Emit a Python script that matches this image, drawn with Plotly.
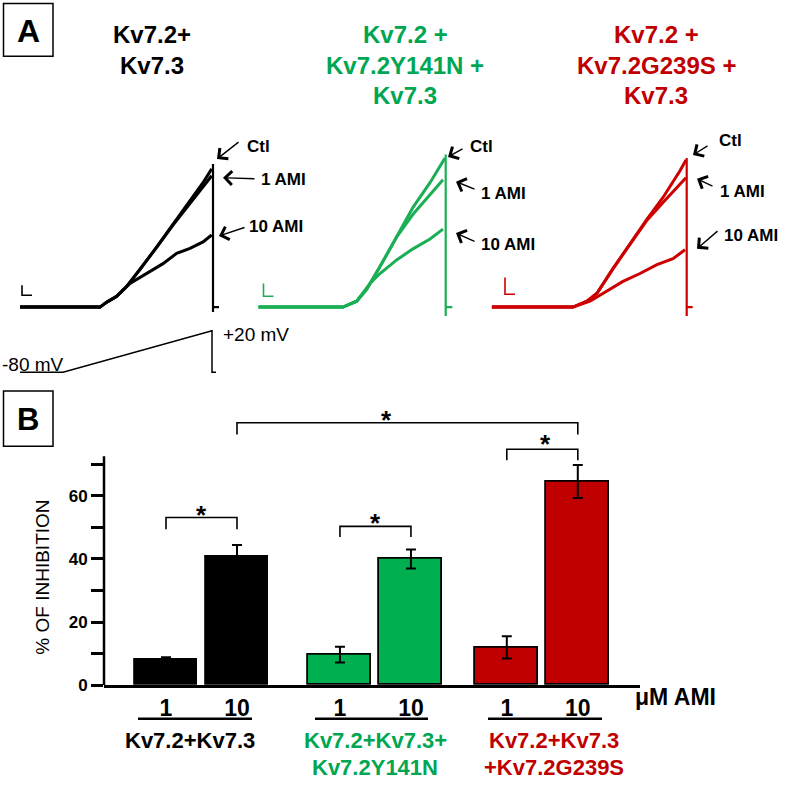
import plotly.graph_objects as go

W, H = 787, 797


def PX(x):
    return x / W


def PY(y):
    return 1 - y / H


FONT = "Liberation Sans, Arial, sans-serif"
BLACK = "#000000"
GREEN_TRACE = "#1aaf54"
GREEN = "#00a651"
GREEN_BAR = "#00b050"
RED_TRACE = "#cc0000"
RED = "#c00000"

# ---------------- Panel A data (time in ms, current in nA) ----
black_t_ctl = [0, 800, 867, 967, 1067, 1200, 1367, 1530, 1700, 1830, 1917]
black_i_ctl = [0, 0, 0.10, 0.22, 0.42, 0.76, 1.22, 1.68, 2.16, 2.52, 2.80]
black_t_1 = [0, 800, 867, 967, 1067, 1200, 1367, 1530, 1700, 1830, 1917]
black_i_1 = [0, 0, 0.10, 0.22, 0.42, 0.76, 1.21, 1.66, 2.11, 2.44, 2.66]
black_t_10 = [0, 800, 867, 967, 1100, 1267, 1430, 1567, 1700, 1830, 1917]
black_i_10 = [0, 0, 0.10, 0.22, 0.48, 0.69, 0.88, 1.09, 1.19, 1.32, 1.46]
black_t_art = [1930, 1930, 1930, 1990]
black_i_art = [2.90, -0.10, 0.0, 0.0]

green_t_ctl = [0, 847, 984, 1084, 1217, 1384, 1547, 1717, 1867]
green_i_ctl = [0, 0, 0.12, 0.36, 0.82, 1.42, 2.02, 2.52, 3.02]
green_t_1 = [0, 847, 984, 1084, 1217, 1384, 1547, 1717, 1847]
green_i_1 = [0, 0, 0.12, 0.36, 0.82, 1.42, 1.88, 2.28, 2.58]
green_t_10 = [0, 847, 984, 1117, 1217, 1387, 1547, 1717, 1847]
green_i_10 = [0, 0, 0.12, 0.48, 0.68, 0.96, 1.18, 1.38, 1.58]
green_t_art = [1874, 1874, 1874, 1940]
green_i_art = [3.09, -0.18, 0.0, 0.0]

red_t_ctl = [0, 813, 953, 1053, 1213, 1383, 1553, 1713, 1883, 1943]
red_i_ctl = [0, 0, 0.12, 0.28, 0.78, 1.28, 1.78, 2.22, 2.76, 2.98]
red_t_1 = [0, 813, 953, 1053, 1213, 1383, 1553, 1713, 1883, 1943]
red_i_1 = [0, 0, 0.12, 0.28, 0.78, 1.28, 1.76, 2.12, 2.48, 2.62]
red_t_10 = [0, 813, 983, 1153, 1313, 1483, 1653, 1813, 1933]
red_i_10 = [0, 0, 0.12, 0.32, 0.52, 0.68, 0.86, 0.98, 1.16]
red_t_art = [1950, 1950, 1950, 2010]
red_i_art = [3.02, -0.18, 0.0, 0.0]

# voltage protocol
volt_t = [0, 430, 1920, 1920, 1960]
volt_mv = [-80, -80, 20, -80, -80]

trace_labels = ["Ctl", "1 AMI", "10 AMI"]

# ---------------- Panel B data ----------------
group_names = ["Kv7.2+Kv7.3", "Kv7.2+Kv7.3+|Kv7.2Y141N", "Kv7.2+Kv7.3|+Kv7.2G239S"]
concentrations = ["1", "10"]
mean_inhibition = [[8.1, 40.6], [9.7, 40.0], [12.0, 64.5]]
sem_inhibition = [[0.8, 3.8], [2.5, 3.0], [3.5, 5.2]]
ytick_vals = [0, 10, 20, 30, 40, 50, 60, 70]
ytick_text = ["0", "", "20", "", "40", "", "60", ""]

fig = go.Figure()

# ---------- Panel A traces ----------
panels = [
    ("x", "y", BLACK, [(black_t_ctl, black_i_ctl), (black_t_1, black_i_1), (black_t_10, black_i_10), (black_t_art, black_i_art)]),
    ("x2", "y2", GREEN_TRACE, [(green_t_ctl, green_i_ctl), (green_t_1, green_i_1), (green_t_10, green_i_10), (green_t_art, green_i_art)]),
    ("x3", "y3", RED_TRACE, [(red_t_ctl, red_i_ctl), (red_t_1, red_i_1), (red_t_10, red_i_10), (red_t_art, red_i_art)]),
]
for xa, ya, col, series in panels:
    for k, (t, i) in enumerate(series):
        fig.add_trace(go.Scatter(x=t, y=i, xaxis=xa, yaxis=ya, mode="lines",
                                 line=dict(color=col, width=3.0 if k < 3 else 2.2),
                                 showlegend=False, hoverinfo="skip"))

fig.add_trace(go.Scatter(x=volt_t, y=volt_mv, xaxis="x4", yaxis="y4", mode="lines",
                         line=dict(color=BLACK, width=1.5), showlegend=False, hoverinfo="skip"))

# ---------- Panel B bars ----------
group_offsets = [0.0, 2.45, 4.8]
bar_colors = [BLACK, GREEN_BAR, RED]
bar_pos = []
for g in range(3):
    xs = [group_offsets[g], group_offsets[g] + 1.0]
    bar_pos.append(xs)
    fig.add_trace(go.Bar(x=xs, y=mean_inhibition[g], xaxis="x5", yaxis="y5", width=0.887,
                         marker=dict(color=bar_colors[g], line=dict(color=BLACK, width=1.8)),
                         error_y=dict(type="data", array=sem_inhibition[g], visible=True,
                                      color=BLACK, thickness=2, width=5),
                         showlegend=False, hoverinfo="skip"))

# significance brackets (x-index pairs, top level, drop)
brackets = [((0, 0), (0, 1), 53.1, 3.7), ((1, 0), (1, 1), 50.3, 3.4),
            ((2, 0), (2, 1), 74.7, 3.5), ((0, 1), (2, 1), 83.1, 3.7)]
star_px = [(201, 522), (375, 530), (545, 450), (386, 425)]
for (a, b, top, drop) in brackets:
    xa = bar_pos[a[0]][a[1]]
    xb = bar_pos[b[0]][b[1]]
    fig.add_trace(go.Scatter(x=[xa, xa, xb, xb], y=[top - drop, top, top, top - drop],
                             xaxis="x5", yaxis="y5", mode="lines",
                             line=dict(color=BLACK, width=1.6), showlegend=False, hoverinfo="skip"))

all_pos = [p for pair in bar_pos for p in pair]
all_lab = [c for _ in range(3) for c in concentrations]

hidden = dict(visible=False)
fig.update_layout(
    width=W, height=H, margin=dict(l=0, r=0, t=0, b=0),
    paper_bgcolor="white", plot_bgcolor="rgba(0,0,0,0)",
    font=dict(family=FONT, color=BLACK),
    xaxis=dict(domain=[PX(20), PX(240)], range=[0, 2200], anchor="y", **hidden),
    yaxis=dict(domain=[PY(325), PY(150)], range=[-0.28, 3.22], anchor="x", **hidden),
    xaxis2=dict(domain=[PX(258.3), PX(478.3)], range=[0, 2200], anchor="y2", **hidden),
    yaxis2=dict(domain=[PY(325), PY(150)], range=[-0.28, 3.22], anchor="x2", **hidden),
    xaxis3=dict(domain=[PX(491.7), PX(711.7)], range=[0, 2200], anchor="y3", **hidden),
    yaxis3=dict(domain=[PY(325), PY(150)], range=[-0.28, 3.22], anchor="x3", **hidden),
    xaxis4=dict(domain=[PX(20), PX(240)], range=[0, 2200], anchor="y4", **hidden),
    yaxis4=dict(domain=[PY(385), PY(330)], range=[-99.05, 31.9], anchor="x4", **hidden),
    xaxis5=dict(domain=[PX(104), PX(640)], range=[-0.873, 6.676], anchor="y5",
                showline=True, linecolor=BLACK, linewidth=2.5, showgrid=False, zeroline=False,
                tickmode="array", tickvals=all_pos, ticktext=all_lab, ticks="",
                tickfont=dict(size=23, family=FONT, color=BLACK, weight="bold")),
    yaxis5=dict(domain=[PY(694), PY(410)], range=[0, 88.75], anchor="x5",
                showline=False, showgrid=False, zeroline=False,
                tickmode="array", tickvals=ytick_vals, ticktext=ytick_text,
                ticks="outside", ticklen=12, tickwidth=2.5, tickcolor=BLACK,
                tickfont=dict(size=17, family=FONT, color=BLACK, weight="bold")),
    bargap=0,
)

shapes = []
# y-axis line of panel B (stops at 72.5)
shapes.append(dict(type="line", xref="x5 domain", yref="y5", x0=0, x1=0, y0=0, y1=72.5,
                   line=dict(color=BLACK, width=2.5)))
# panel letter boxes
shapes.append(dict(type="rect", xref="paper", yref="paper", x0=PX(3.5), x1=PX(53), y0=PY(57), y1=PY(3.5),
                   line=dict(color=BLACK, width=1.5)))
shapes.append(dict(type="rect", xref="paper", yref="paper", x0=PX(3.5), x1=PX(53), y0=PY(452), y1=PY(396),
                   line=dict(color=BLACK, width=1.5)))
# scale bars (L)
for (x0, ytop, ybot, x1, col) in [(22, 289, 299, 32, BLACK), (263.5, 287, 300, 273.5, GREEN_TRACE),
                                  (505, 281, 298, 515, RED_TRACE)]:
    shapes.append(dict(type="path", xref="paper", yref="paper",
                       path=f"M {PX(x0)},{PY(ytop)} L {PX(x0)},{PY(ybot)} L {PX(x1)},{PY(ybot)}",
                       line=dict(color=col, width=1.6)))
# group underlines
for (xa, xb) in [(138, 252), (315, 428), (488, 602)]:
    shapes.append(dict(type="line", xref="paper", yref="paper", x0=PX(xa), x1=PX(xb), y0=PY(728), y1=PY(728),
                       line=dict(color=BLACK, width=2.5)))
fig.update_layout(shapes=shapes)

ann = []


def text(t, x, y, size, color=BLACK, bold=True, xanchor="center", angle=0):
    ann.append(dict(text=t, x=PX(x), y=PY(y), xref="paper", yref="paper", showarrow=False,
                    xanchor=xanchor, yanchor="middle", textangle=angle,
                    font=dict(size=size, color=color, family=FONT, weight="bold" if bold else "normal")))


def arrow(tail, tip):
    ann.append(dict(text="", x=PX(tip[0]), y=PY(tip[1]), ax=tail[0] - tip[0], ay=tail[1] - tip[1],
                    xref="paper", yref="paper", axref="pixel", ayref="pixel", showarrow=True,
                    arrowhead=4, arrowsize=1.9, arrowwidth=1.4, arrowcolor=BLACK, standoff=0))


# panel letters
text("A", 28, 31, 32)
text("B", 28, 425, 31)

# panel A titles
for i, line in enumerate(["Kv7.2+", "Kv7.3"]):
    text(line, 152, 35 + 31 * i, 24, BLACK)
for i, line in enumerate(["Kv7.2 +", "Kv7.2Y141N +", "Kv7.3"]):
    text(line, 405, 35 + 31 * i, 24, GREEN)
for i, line in enumerate(["Kv7.2 +", "Kv7.2G239S +", "Kv7.3"]):
    text(line, 656, 35 + 31 * i, 24, RED)

# trace labels with arrows
label_pos = [
    [(245, 148), (259, 182), (247, 229)],
    [(468, 148), (479, 196), (479, 248)],
    [(717, 142), (718, 194), (722, 238)],
]
arrow_pos = [
    [((240, 143), (217, 161)), ((256, 181), (223, 180)), ((246, 230), (219, 239))],
    [((464, 150), (448, 159)), ((476, 192), (456, 184)), ((476, 245), (456, 236))],
    [((709, 147), (693, 157)), ((714, 189), (697, 181)), ((719, 233), (697, 252))],
]
for p in range(3):
    for k in range(3):
        text(trace_labels[k], label_pos[p][k][0], label_pos[p][k][1], 17, BLACK, True, "left")
        arrow(*arrow_pos[p][k])

# voltage protocol labels
text("-80 mV", 0, 369, 19, BLACK, False, "left")
text("+20 mV", 221, 339, 19, BLACK, False, "left")

# panel B texts
text("% OF INHIBITION", 43, 585, 19, BLACK, False, "center", -90)
text("\u03bcM AMI", 633, 706, 23, BLACK, True, "left")
for (sx, sy) in star_px:
    text("*", sx, sy, 26)

group_label_x = [190, 375, 554]
group_colors = [BLACK, GREEN, RED]
for g in range(3):
    for j, line in enumerate(group_names[g].split("|")):
        text(line, group_label_x[g], 750 + 27 * j, 22, group_colors[g])

fig.update_layout(annotations=ann)
fig.write_html("out.html", config={"displayModeBar": False},
               post_script="document.body.style.margin='0';document.body.style.overflow='hidden';")
